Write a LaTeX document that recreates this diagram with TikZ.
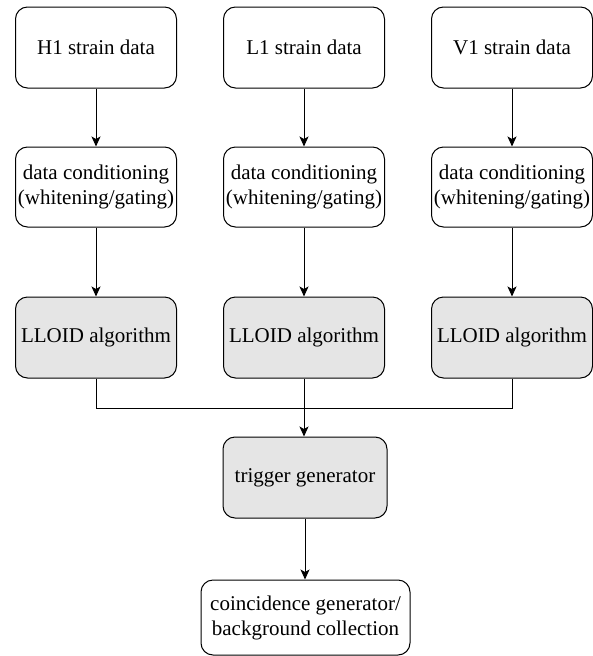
\documentclass[tikz,border=0pt]{standalone}
\usepackage{fontspec}
\setmainfont{Liberation Serif}
\newfontfamily\boxfont{Liberation Serif}
\usetikzlibrary{positioning,arrows.meta}

\begin{document}
\begin{tikzpicture}[x=1pt,y=1pt,
  box/.style={draw,rounded corners=12pt,line width=1pt,align=center,inner sep=0pt,
    minimum width=161pt,minimum height=81pt,font=\boxfont\fontsize{21}{25}\selectfont},
  graybox/.style={box,fill=gray!20},
  arr/.style={-{Stealth[length=10pt,width=9pt,inset=2.5pt]},line width=1pt}]
\useasboundingbox (0,0) rectangle (592,-656);

\node[box] (h1) at (96,-47.5) {H1 strain data};
\node[box] (l1) at (304,-47.5) {L1 strain data};
\node[box] (v1) at (512,-47.5) {V1 strain data};

\node[box,minimum height=80pt] (hc) at (96,-187) {data conditioning\\(whitening/gating)};
\node[box,minimum height=80pt] (lc) at (304,-187) {data conditioning\\(whitening/gating)};
\node[box,minimum height=80pt] (vc) at (512,-187) {data conditioning\\(whitening/gating)};

\node[graybox] (hl) at (96,-337.5) {LLOID algorithm};
\node[graybox] (ll) at (304,-337.5) {LLOID algorithm};
\node[graybox] (vl) at (512,-337.5) {LLOID algorithm};

\coordinate (merge) at (304,-408);

\node[graybox,minimum width=164pt] (trig) at (305,-477.5) {trigger generator};
\node[box,minimum width=209pt,minimum height=75pt] (coinc) at (305.5,-617.5)
  {coincidence generator/\\background collection};

\draw[arr] (h1) -- (hc);
\draw[arr] (l1) -- (lc);
\draw[arr] (v1) -- (vc);
\draw[arr] (hc) -- (hl);
\draw[arr] (lc) -- (ll);
\draw[arr] (vc) -- (vl);

\draw[line width=1pt] (hl.south) |- (merge);
\draw[line width=1pt] (vl.south) |- (merge);
\draw[arr] (ll.south) -- (ll.south |- trig.north);
\draw[arr] (trig) -- (trig.south |- coinc.north);

\end{tikzpicture}
\end{document}
